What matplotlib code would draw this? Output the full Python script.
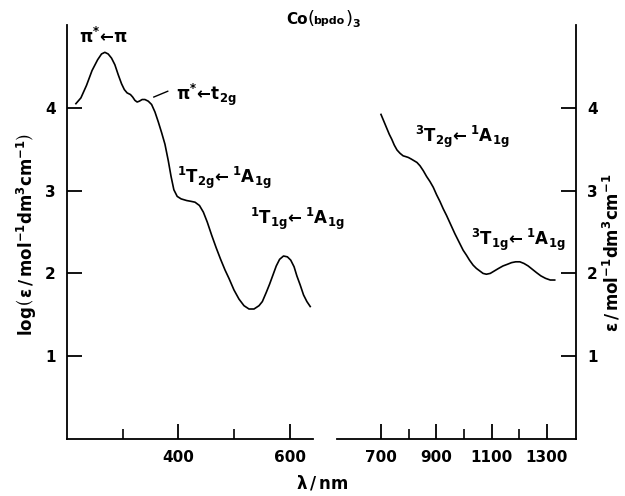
import numpy as np
import matplotlib
matplotlib.use("Agg")
from matplotlib import pyplot as plt

# UV-vis region (nm, log eps)
uv_nm = [216, 225, 235, 245, 255, 262, 268, 274, 280, 286, 292, 298, 303, 308,
         314, 318, 322, 326, 330, 335, 340, 346, 352, 358, 364, 370, 376, 382,
         387, 392, 398, 405, 415, 423, 430, 438, 445, 452, 460, 468, 476, 484,
         491, 500, 509, 518, 527, 536, 545, 551, 558, 564, 570, 576, 582, 589,
         596, 602, 608, 613, 619, 625, 631, 637]
uv_log = [4.05, 4.12, 4.27, 4.45, 4.58, 4.65, 4.67, 4.65, 4.60, 4.52, 4.40, 4.29,
          4.22, 4.18, 4.16, 4.13, 4.09, 4.07, 4.08, 4.10, 4.10, 4.08, 4.04, 3.95,
          3.83, 3.70, 3.56, 3.36, 3.17, 3.01, 2.93, 2.90, 2.88, 2.87, 2.86, 2.82,
          2.74, 2.62, 2.46, 2.31, 2.17, 2.04, 1.94, 1.80, 1.69, 1.61, 1.57, 1.57,
          1.61, 1.66, 1.77, 1.87, 1.98, 2.09, 2.17, 2.21, 2.20, 2.16, 2.08, 1.97,
          1.86, 1.74, 1.66, 1.60]

# near IR region (nm, log eps)
ir_nm = [700, 710, 720, 730, 739, 748, 758, 769, 780, 790, 799, 810, 820, 830,
         841, 853, 865, 877, 889, 901, 913, 925, 937, 952, 967, 982, 997, 1009,
         1020, 1033, 1045, 1057, 1069, 1081, 1095, 1110, 1125, 1141, 1157, 1172,
         1187, 1202, 1217, 1232, 1247, 1262, 1278, 1295, 1312, 1328]
ir_log = [3.92, 3.84, 3.76, 3.68, 3.62, 3.55, 3.49, 3.45, 3.42, 3.41, 3.40, 3.38,
          3.36, 3.34, 3.30, 3.24, 3.17, 3.11, 3.04, 2.95, 2.87, 2.78, 2.70, 2.59,
          2.48, 2.38, 2.28, 2.22, 2.16, 2.10, 2.06, 2.03, 2.00, 1.99, 2.00, 2.03,
          2.06, 2.09, 2.11, 2.13, 2.14, 2.14, 2.12, 2.09, 2.05, 2.01, 1.97, 1.94,
          1.92, 1.92]

yticks = [1, 2, 3, 4]
uv_major = [400, 600]
uv_minor = [300, 500]
ir_major = [700, 900, 1100, 1300]
ir_minor = [800, 1000, 1200]

plt.rcParams['font.family'] = ['DejaVu Sans']
plt.rcParams['font.weight'] = 'bold'
plt.rcParams['mathtext.fontset'] = 'dejavusans'
plt.rcParams['mathtext.default'] = 'bf'

fig = plt.figure(figsize=(6.25, 4.96), dpi=100)
W, H = 625.0, 496.0

def box(x0, x1, ytop, ybot):
    return [x0 / W, 1 - ybot / H, (x1 - x0) / W, (ybot - ytop) / H]

def px(x, y):
    return x / W, 1 - y / H

ax1 = fig.add_axes(box(67, 313, 25, 439))
ax2 = fig.add_axes(box(337, 576, 25, 439))

for ax in (ax1, ax2):
    ax.set_facecolor('none')
    ax.set_ylim(0, 5)
    ax.spines['top'].set_visible(False)
    for s in ax.spines.values():
        s.set_linewidth(1.3)
    ax.tick_params(direction='in', length=11, width=1.3, labelsize=11, pad=8)
    ax.tick_params(which='minor', direction='in', length=7, width=1.2)
    ax.set_yticks(yticks)
    ax.set_yticklabels([str(t) for t in yticks], fontweight='bold')

ax1.plot(uv_nm, uv_log, color='black', lw=1.2)
ax1.set_xlim(200, 642)
ax1.spines['right'].set_visible(False)
ax1.set_xticks(uv_major)
ax1.set_xticks(uv_minor, minor=True)
ax1.set_xticklabels([str(t) for t in uv_major], fontweight='bold')

ax2.plot(ir_nm, ir_log, color='black', lw=1.2)
ax2.set_xlim(541, 1405)
ax2.spines['left'].set_visible(False)
ax2.yaxis.tick_right()
ax2.set_xticks(ir_major)
ax2.set_xticks(ir_minor, minor=True)
ax2.set_xticklabels([str(t) for t in ir_major], fontweight='bold')

fs = 12
ax1.text(265, 4.85, r'$\pi^{*}\!\leftarrow\!\pi$', fontsize=fs, ha='center', va='center')
ax1.text(451, 4.16, r'$\pi^{*}\!\leftarrow\!t_{2g}$', fontsize=fs, ha='center', va='center')
ax1.plot([356, 381], [4.13, 4.20], color='black', lw=1.0)
ax1.text(482, 3.16, r'$^1T_{2g}\!\leftarrow{}^1A_{1g}$', fontsize=fs, ha='center', va='center')
ax1.text(613, 2.66, r'$^1T_{1g}\!\leftarrow{}^1A_{1g}$', fontsize=fs, ha='center', va='center')
ax2.text(993, 3.65, r'$^3T_{2g}\!\leftarrow{}^1A_{1g}$', fontsize=fs, ha='center', va='center')
ax2.text(1195, 2.41, r'$^3T_{1g}\!\leftarrow{}^1A_{1g}$', fontsize=fs, ha='center', va='center')

# title Co(bpdo)3
fig.text(*px(308, 20), 'Co', fontsize=11, ha='right', va='center')
fig.text(*px(307.5, 19), '(', fontsize=13, fontweight='normal', ha='left', va='center')
fig.text(*px(313.5, 21), 'bpdo', fontsize=8, ha='left', va='center')
fig.text(*px(346, 19), ')', fontsize=13, fontweight='normal', ha='left', va='center')
fig.text(*px(352, 24), '3', fontsize=8, ha='left', va='center')

fig.text(*px(27, 235), r'log$\left(\,\varepsilon\,/\,mol^{-1}dm^{3}cm^{-1}\right)$',
         fontsize=12, rotation=90, ha='center', va='center')
fig.text(*px(612, 253), r'$\varepsilon\,/\,mol^{-1}dm^{3}cm^{-1}$',
         fontsize=12, rotation=90, ha='center', va='center')
fig.text(*px(322, 483), r'$\lambda\,/\,nm$', fontsize=12, ha='center', va='center')

fig.savefig('out.png', dpi=100)
